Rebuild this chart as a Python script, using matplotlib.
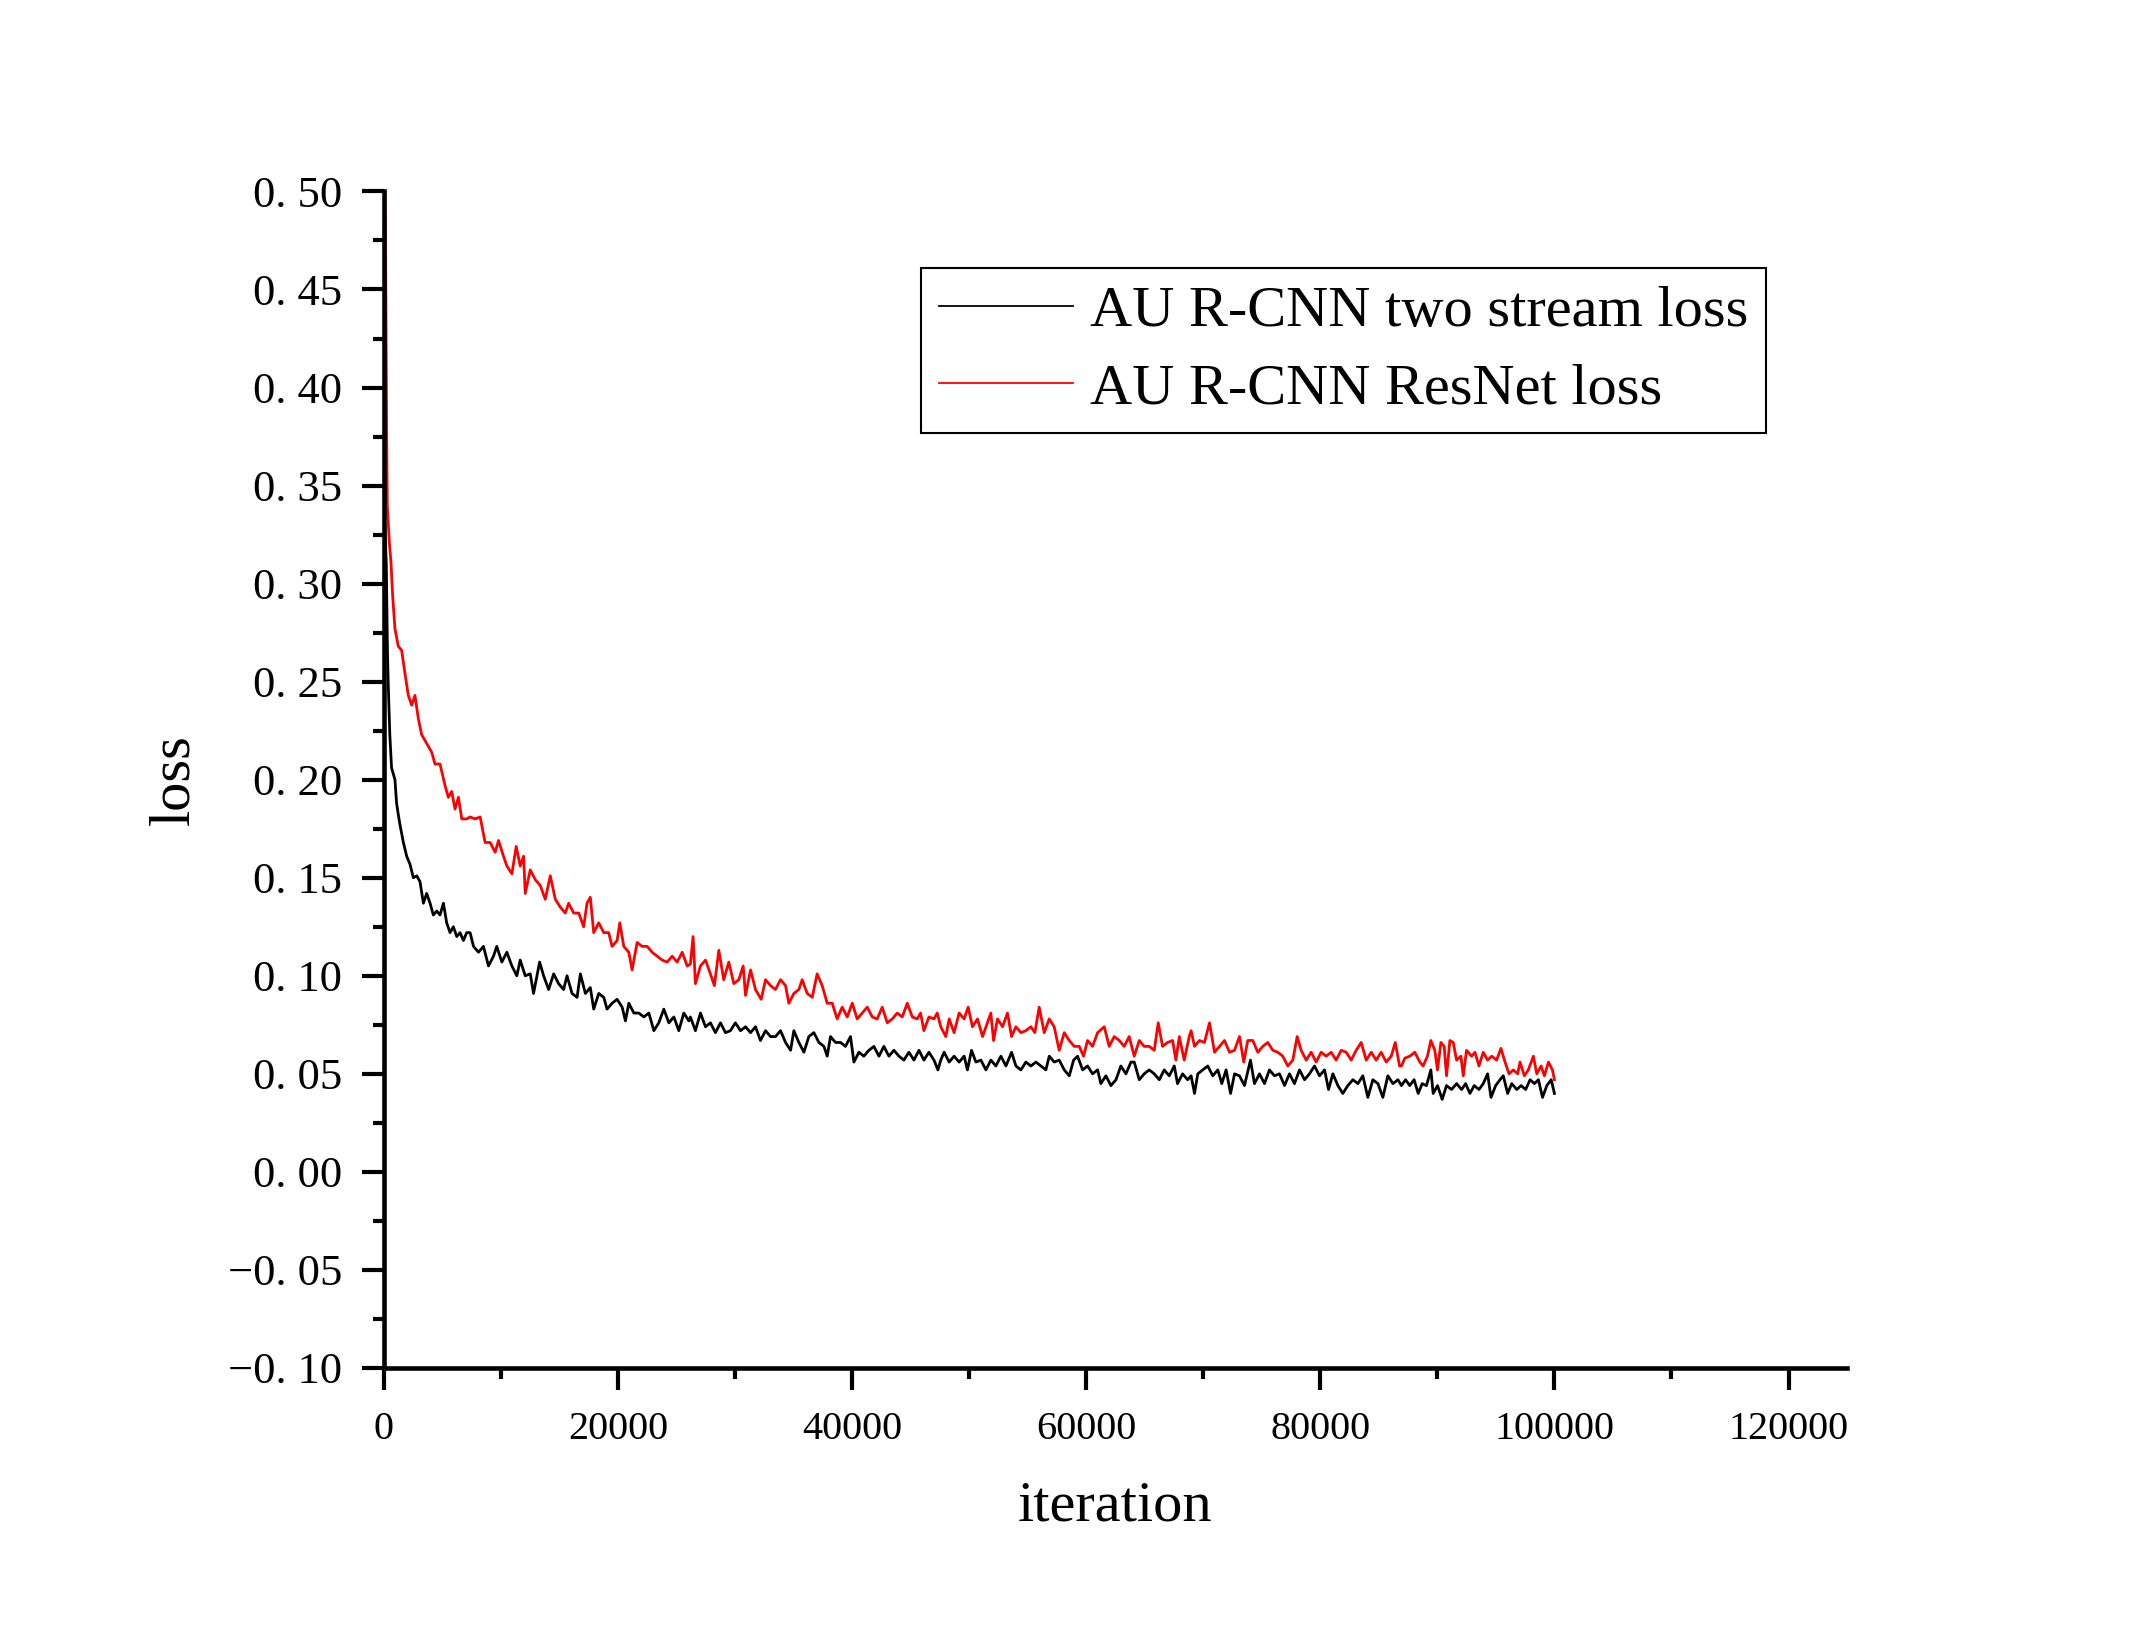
import matplotlib
matplotlib.use('Agg')
import matplotlib.pyplot as plt
from matplotlib.ticker import MultipleLocator

# values
black_iter = [0, 200, 300, 370, 500, 650, 940, 1080, 1230, 1370, 1660, 1940, 2220, 2510, 2800, 3080, 3370, 3650, 3940, 4220,
              4510, 4790, 5080, 5360, 5650, 5930, 6220, 6500, 6790, 7070,
              7360, 7650, 8080, 8500, 8930, 9360, 9640, 10070, 10500, 10930, 11350, 11640, 12070, 12500, 12780, 13300, 13640, 14070, 14500, 14920,
              15350, 15640, 16070, 16500, 16780, 17210, 17630, 17920, 18350, 18780, 19060, 19490, 19920, 20350, 20630, 20920, 21350, 21770, 22200, 22630,
              23060, 23480, 23910, 24340, 24770, 25190, 25620, 26050,
              26180, 26610, 27040, 27470, 27890, 28320, 28750, 29180, 29600, 30030, 30460, 30890, 31320, 31740, 32170, 32600, 33030, 33450, 33880, 34310,
              34740, 35020, 35450, 35880, 36300, 36730, 37160, 37590, 37870, 38150, 38580, 39010, 39430, 39860, 40150, 40580, 41000, 41430, 41860, 42290,
              42710, 43140, 43570, 44000, 44420, 44850, 45280, 45710, 46130, 46560, 46990, 47330,
              47570, 47860, 48290, 48710, 49140, 49570, 49850, 50200, 50570, 51000, 51430, 51850, 52280, 52710, 53140, 53620, 53990, 54420, 54840, 55270,
              55700, 56130, 56550, 56840, 57260, 57690, 58120, 58550, 58920, 59260, 59690, 60110, 60540, 60970, 61250, 61680, 62110, 62540, 62960, 63390,
              63820, 64100, 64530, 64950, 65380, 65810, 66240, 66660, 67090, 67520, 67800, 68230, 68660,
              68960, 69250, 69530, 69960, 70380, 70810, 71240, 71580, 71950, 72330, 72670, 73090, 73520, 74030, 74370, 74800, 75230, 75650, 76080, 76510,
              76940, 77360, 77790, 78220, 78650, 79070, 79500, 79930, 80360, 80700, 81070, 81500, 81920, 82350, 82780, 83210, 83630, 84060, 84490, 84920,
              85340, 85770, 86200, 86630,
              86930, 87280, 87640, 88010, 88360, 88700, 89070, 89440, 89640, 90010, 90410, 90780, 91210, 91640, 92070, 92410, 92780, 93150, 93550, 93920,
              94290, 94580, 94980, 95350, 95630, 96000, 96350, 96780, 97150, 97540, 97920, 98290, 98630, 98980, 99350, 99720, 99920, 100000]
black_loss = [0.34, 0.31, 0.265, 0.248, 0.223, 0.206, 0.200, 0.188, 0.182, 0.177, 0.168, 0.161, 0.157, 0.150, 0.151, 0.148, 0.137, 0.142, 0.137, 0.131,
              0.133, 0.131, 0.137, 0.127, 0.122, 0.125, 0.120, 0.122, 0.118, 0.122,
              0.122, 0.115, 0.112, 0.115, 0.105, 0.110, 0.115, 0.107, 0.112, 0.105, 0.100, 0.108, 0.100, 0.101, 0.091, 0.107, 0.100, 0.093, 0.101, 0.096,
              0.093, 0.100, 0.091, 0.089, 0.101, 0.091, 0.094, 0.083, 0.091, 0.089, 0.083, 0.086, 0.088, 0.084, 0.077, 0.086, 0.081, 0.081, 0.079, 0.081,
              0.072, 0.076, 0.083, 0.076, 0.079, 0.072, 0.081, 0.077,
              0.079, 0.072, 0.081, 0.074, 0.076, 0.071, 0.076, 0.071, 0.072, 0.076, 0.072, 0.074, 0.071, 0.074, 0.067, 0.072, 0.069, 0.069, 0.072, 0.066,
              0.062, 0.072, 0.066, 0.061, 0.069, 0.071, 0.066, 0.064, 0.059, 0.069, 0.066, 0.066, 0.064, 0.069, 0.056, 0.061, 0.059, 0.062, 0.064, 0.059,
              0.064, 0.059, 0.062, 0.059, 0.057, 0.061, 0.057, 0.062, 0.057, 0.061, 0.057, 0.052,
              0.057, 0.061, 0.056, 0.059, 0.056, 0.059, 0.052, 0.062, 0.056, 0.057, 0.052, 0.057, 0.054, 0.059, 0.054, 0.061, 0.054, 0.052, 0.056, 0.054,
              0.056, 0.054, 0.052, 0.059, 0.056, 0.057, 0.052, 0.049, 0.057, 0.059, 0.052, 0.054, 0.050, 0.052, 0.045, 0.049, 0.044, 0.047, 0.054, 0.050,
              0.056, 0.056, 0.047, 0.050, 0.052, 0.050, 0.047, 0.052, 0.049, 0.054, 0.045, 0.050, 0.047,
              0.049, 0.040, 0.050, 0.052, 0.054, 0.049, 0.052, 0.045, 0.052, 0.040, 0.050, 0.049, 0.044, 0.057, 0.045, 0.050, 0.045, 0.052, 0.049, 0.050,
              0.044, 0.050, 0.045, 0.052, 0.047, 0.050, 0.054, 0.049, 0.052, 0.042, 0.050, 0.044, 0.040, 0.044, 0.047, 0.045, 0.049, 0.038, 0.047, 0.045,
              0.038, 0.049, 0.045, 0.047,
              0.044, 0.047, 0.044, 0.047, 0.040, 0.045, 0.044, 0.052, 0.040, 0.044, 0.037, 0.044, 0.042, 0.045, 0.042, 0.045, 0.040, 0.044, 0.042, 0.045,
              0.050, 0.038, 0.044, 0.047, 0.049, 0.040, 0.045, 0.042, 0.044, 0.042, 0.047, 0.045, 0.047, 0.038, 0.044, 0.047, 0.042, 0.040]

red_iter = [0, 85, 145, 230, 285, 470, 600, 740, 940, 1225, 1510, 1800, 2080, 2370, 2650, 2940, 3220, 3510, 3790, 4080,
            4360, 4790, 5220, 5500, 5790, 6070, 6360, 6650, 7070,
            7360, 7790, 8220, 8640, 9070, 9500, 9790, 10210, 10500, 10930, 11300, 11640, 11930, 12070, 12500, 12930, 13360, 13780, 14210, 14640,
            15070, 15490, 15780, 16210, 16640, 17060, 17350, 17630, 17920, 18350, 18780, 19200, 19490, 19920, 20150, 20490, 20920, 21200, 21630, 22060,
            22490, 22910, 23340, 23770, 24200, 24620, 25050, 25480, 25910,
            26180, 26410, 26610, 27040, 27470, 27890, 28230, 28610, 29030, 29460, 29890, 30320, 30690, 30890, 31320, 31740, 32230, 32600, 33030, 33450,
            33880, 34310, 34590, 35020, 35450, 35730, 36160, 36590, 37010, 37440, 37870, 38300, 38720, 39150, 39580, 40010, 40430, 40860, 41290, 41720,
            42140, 42570, 43000, 43430, 43850, 44280, 44710, 45140, 45560, 45850, 46130, 46560, 46990, 47270,
            47570, 48000, 48290, 48710, 49140, 49570, 49910, 50280, 50710, 51140, 51560, 51850, 52080, 52420, 52850, 53270, 53620, 53990, 54420, 54840,
            55270, 55610, 55980, 56410, 56840, 57260, 57690, 58120, 58550, 58970, 59400, 59770, 60110, 60540, 60970, 61540, 61960, 62390, 62820, 63240,
            63670, 64100, 64530, 64950, 65380, 65810, 66150, 66520, 66950, 67380, 67660, 67950, 68370, 68800,
            68960, 69250, 69670, 70100, 70530, 70960, 71380, 71810, 72240, 72670, 73090, 73460, 73800, 74230, 74660, 75080, 75510, 75940, 76370, 76790,
            77220, 77650, 78020, 78360, 78790, 79220, 79640, 80070, 80500, 80930, 81350, 81780, 82210, 82640, 83060, 83490, 83920, 84350, 84770, 85200,
            85630, 86060, 86400, 86770,
            86930, 87220, 87640, 88070, 88500, 88780, 89150, 89440, 89780, 90010, 90300, 90580, 90780, 91070, 91350, 91640, 92010, 92210, 92490, 92920,
            93210, 93550, 93920, 94290, 94640, 95060, 95430, 95780, 96120, 96490, 96860, 97060, 97430, 97770, 98200, 98490, 98860, 99140, 99490, 99830,
            100000]
red_loss = [0.50, 0.50, 0.463, 0.377, 0.340, 0.320, 0.311, 0.294, 0.277, 0.268, 0.266, 0.254, 0.243, 0.238, 0.243, 0.231, 0.223, 0.220, 0.217, 0.214,
            0.208, 0.208, 0.197, 0.191, 0.194, 0.185, 0.191, 0.180, 0.180,
            0.181, 0.180, 0.181, 0.168, 0.168, 0.163, 0.169, 0.161, 0.156, 0.152, 0.166, 0.156, 0.161, 0.142, 0.154, 0.149, 0.146, 0.139, 0.151, 0.139,
            0.135, 0.132, 0.137, 0.132, 0.132, 0.125, 0.137, 0.140, 0.122, 0.127, 0.122, 0.122, 0.115, 0.118, 0.127, 0.115, 0.112, 0.103, 0.117, 0.115,
            0.115, 0.112, 0.110, 0.108, 0.107, 0.110, 0.107, 0.112, 0.105,
            0.106, 0.120, 0.096, 0.105, 0.108, 0.101, 0.095, 0.113, 0.098, 0.107, 0.096, 0.098, 0.105, 0.090, 0.103, 0.093, 0.088, 0.098, 0.095, 0.093,
            0.098, 0.095, 0.086, 0.091, 0.093, 0.098, 0.091, 0.089, 0.101, 0.095, 0.086, 0.086, 0.078, 0.084, 0.079, 0.086, 0.078, 0.081, 0.084, 0.079,
            0.078, 0.084, 0.076, 0.078, 0.081, 0.079, 0.086, 0.079, 0.078, 0.081, 0.072, 0.079, 0.078, 0.081,
            0.074, 0.069, 0.078, 0.071, 0.081, 0.078, 0.084, 0.074, 0.078, 0.069, 0.076, 0.081, 0.067, 0.078, 0.074, 0.081, 0.069, 0.074, 0.071, 0.072,
            0.074, 0.071, 0.084, 0.071, 0.078, 0.074, 0.062, 0.071, 0.067, 0.064, 0.064, 0.059, 0.067, 0.064, 0.071, 0.074, 0.064, 0.069, 0.067, 0.064,
            0.069, 0.059, 0.067, 0.064, 0.064, 0.062, 0.076, 0.064, 0.066, 0.067, 0.057, 0.069, 0.057, 0.069,
            0.072, 0.064, 0.067, 0.066, 0.076, 0.061, 0.064, 0.067, 0.061, 0.062, 0.069, 0.056, 0.067, 0.067, 0.061, 0.064, 0.066, 0.062, 0.061, 0.059,
            0.054, 0.057, 0.069, 0.062, 0.057, 0.061, 0.056, 0.061, 0.059, 0.061, 0.057, 0.062, 0.061, 0.057, 0.062, 0.066, 0.057, 0.061, 0.057, 0.061,
            0.056, 0.059, 0.066, 0.054,
            0.054, 0.058, 0.059, 0.061, 0.056, 0.054, 0.059, 0.067, 0.062, 0.052, 0.066, 0.064, 0.049, 0.067, 0.066, 0.057, 0.059, 0.049, 0.062, 0.059,
            0.061, 0.054, 0.061, 0.057, 0.059, 0.057, 0.063, 0.056, 0.050, 0.052, 0.050, 0.056, 0.049, 0.052, 0.059, 0.050, 0.054, 0.049, 0.056, 0.052,
            0.047]

labels = ['AU R-CNN two stream loss', 'AU R-CNN ResNet loss']

y_ticks = [-0.10, -0.05, 0.00, 0.05, 0.10, 0.15, 0.20, 0.25, 0.30, 0.35, 0.40, 0.45, 0.50]
y_ticklabels = ['\u22120. 10', '\u22120. 05', '0. 00', '0. 05', '0. 10', '0. 15', '0. 20',
                '0. 25', '0. 30', '0. 35', '0. 40', '0. 45', '0. 50']
x_ticks = [0, 20000, 40000, 60000, 80000, 100000, 120000]
x_ticklabels = ['0', '20000', '40000', '60000', '80000', '100000', '120000']

plt.rcParams['font.family'] = ['Liberation Serif', 'DejaVu Serif']

fig = plt.figure(figsize=(21.45, 16.42), dpi=100)
ax = fig.add_axes([0.179, 0.1669, 0.6821, 0.7165])

ax.plot(black_iter, black_loss, color='black', lw=2.0, label=labels[0])
ax.plot(red_iter, red_loss, color='red', lw=2.0, label=labels[1])

ax.set_xlim(0, 125000)
ax.set_ylim(-0.10, 0.50)
ax.set_yticks(y_ticks)
ax.set_yticklabels(y_ticklabels)
ax.set_xticks(x_ticks)
ax.set_xticklabels(x_ticklabels)
ax.yaxis.set_minor_locator(MultipleLocator(0.025))
ax.xaxis.set_minor_locator(MultipleLocator(10000))

for side in ['top', 'right']:
    ax.spines[side].set_visible(False)
for side in ['left', 'bottom']:
    ax.spines[side].set_linewidth(3.3)

ax.tick_params(which='major', length=16, width=3, direction='out')
ax.tick_params(which='minor', length=8, width=3, direction='out')
ax.tick_params(axis='y', which='major', labelsize=32, pad=14)
ax.tick_params(axis='x', which='major', labelsize=29, pad=15)

ax.set_xlabel('iteration', fontsize=42)
ax.xaxis.set_label_coords(0.5, -0.1175)
ax.xaxis.label.set_va('center')
ax.set_ylabel('loss', fontsize=42)
ax.yaxis.set_label_coords(-0.1435, 0.5)
ax.yaxis.label.set_va('center')

leg = ax.legend(loc='upper left', bbox_to_anchor=(0.4294, 0.8368), bbox_transform=fig.transFigure,
                fontsize=42, fancybox=False, edgecolor='black', framealpha=1, borderaxespad=0,
                handlelength=2.3, handletextpad=0.3, labelspacing=0.42, borderpad=0.3)
leg.get_frame().set_linewidth(1.5)
for line in leg.get_lines():
    line.set_linewidth(1.3)

fig.savefig('out.png', dpi=100)
